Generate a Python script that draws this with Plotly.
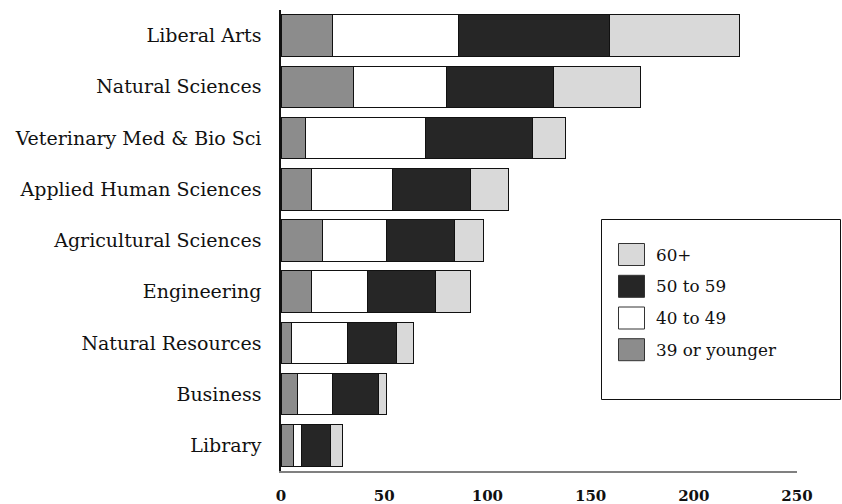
import plotly.graph_objects as go

categories = ["Library", "Business", "Natural Resources", "Engineering",
              "Agricultural Sciences", "Applied Human Sciences",
              "Veterinary Med & Bio Sci", "Natural Sciences", "Liberal Arts"]

age_39_or_younger = [6, 8, 5, 15, 20, 15, 12, 35, 25]
age_40_to_49 = [4, 17, 27, 27, 31, 39, 58, 45, 61]
age_50_to_59 = [14, 22, 24, 33, 33, 38, 52, 52, 73]
age_60_plus = [6, 4, 8, 17, 14, 18, 16, 42, 63]

series_names = ["39 or younger", "40 to 49", "50 to 59", "60+"]
series_values = [age_39_or_younger, age_40_to_49, age_50_to_59, age_60_plus]
series_colors = ["#8c8c8c", "#ffffff", "#262626", "#d9d9d9"]

x_ticks = [0, 50, 100, 150, 200, 250]

W, H = 842, 504
ML, MT, MB = 281, 10, 33
MR = W - 797
PW, PH = W - ML - MR, H - MT - MB

def px_x(x):
    return (x - ML) / PW

def px_y(y):
    return (H - MB - y) / PH

serif = "DejaVu Serif"

fig = go.Figure()
for name, vals, col in zip(series_names, series_values, series_colors):
    fig.add_trace(go.Bar(
        y=categories, x=vals, name=name, orientation="h",
        marker=dict(color=col, line=dict(color="#111111", width=1)),
        showlegend=False,
    ))

# legend drawn as box + swatches + labels
shapes = [dict(type="rect", xref="paper", yref="paper",
               x0=px_x(601.5), x1=px_x(840.5), y0=px_y(399.5), y1=px_y(219.5),
               line=dict(color="#111111", width=1), fillcolor="rgba(0,0,0,0)")]
annotations = []
legend_order = list(reversed(range(len(series_names))))
centers = [254.5, 286.3, 318, 349.7]
for cy, idx in zip(centers, legend_order):
    shapes.append(dict(type="rect", xref="paper", yref="paper",
                       x0=px_x(618.5), x1=px_x(644.5), y0=px_y(cy + 11), y1=px_y(cy - 11),
                       line=dict(color="#333333", width=1), fillcolor=series_colors[idx]))
    annotations.append(dict(xref="paper", yref="paper", x=px_x(654), y=px_y(cy),
                            xanchor="left", yanchor="middle", showarrow=False,
                            text=series_names[idx],
                            font=dict(family=serif, size=16.8, color="#111111")))

fig.update_layout(
    barmode="stack", bargap=0.19,
    width=W, height=H,
    margin=dict(l=ML, r=MR, t=MT, b=MB, pad=0, autoexpand=False),
    paper_bgcolor="white", plot_bgcolor="white",
    shapes=shapes, annotations=annotations,
    xaxis=dict(range=[0, 250], tickvals=x_ticks, ticktext=[str(t) for t in x_ticks],
               showgrid=False, zeroline=False, showline=True, linecolor="#808080",
               linewidth=1.5, ticks="", ticklabelstandoff=10, automargin=False,
               tickfont=dict(family=serif, size=15, color="#111111", weight="bold")),
    yaxis=dict(range=[-0.5, 8.5], showgrid=False, zeroline=False, showline=True,
               linecolor="#111111", linewidth=1.5, ticks="", ticklabelstandoff=14,
               automargin=False,
               tickfont=dict(family=serif, size=19, color="#111111")),
)

fig.write_html("out.html", config={"displayModeBar": False},
               post_script="document.body.style.margin='0';")
